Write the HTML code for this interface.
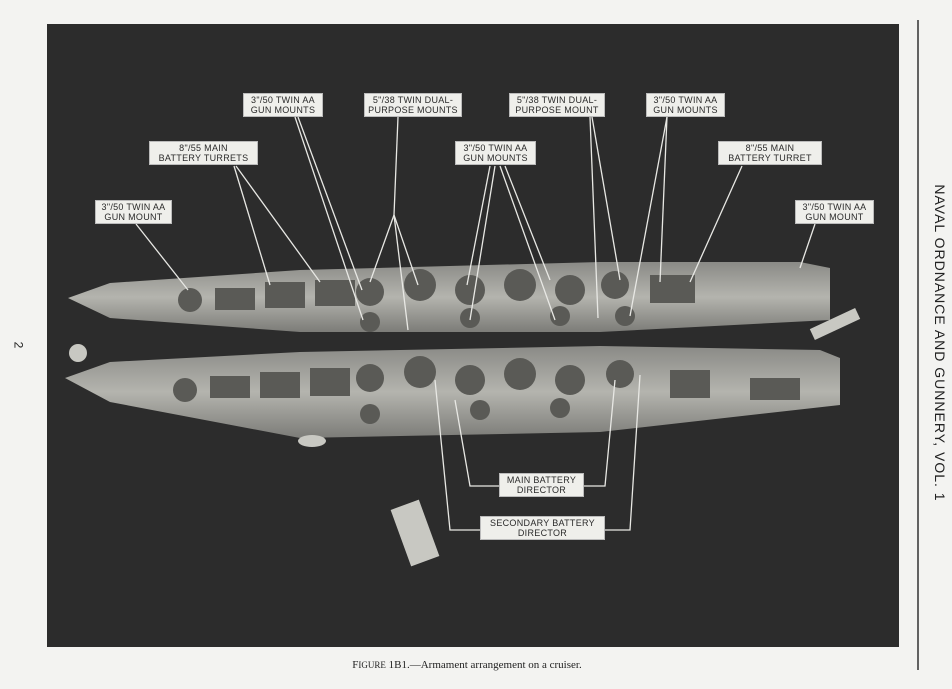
<!DOCTYPE html>
<html><head><meta charset="utf-8"><style>
html,body{margin:0;padding:0;background:#f3f3f1;width:952px;height:689px;overflow:hidden;font-family:"Liberation Sans",sans-serif}
.lab{position:absolute;background:#efefeb;color:#2a2a2a;font-size:9px;line-height:10px;text-align:center;letter-spacing:.3px;border:1px solid #bbb;padding:1px 2px;box-sizing:border-box}
</style></head><body>
<svg width="952" height="689" style="position:absolute;left:0;top:0">
<defs>
<linearGradient id="h" x1="0" y1="0" x2="0" y2="1"><stop offset="0" stop-color="#8a8a86"/><stop offset=".5" stop-color="#b4b4ae"/><stop offset="1" stop-color="#7c7c78"/></linearGradient>
</defs>
<rect x="47" y="24" width="852" height="623" fill="#2c2c2c"/>
<line x1="918" y1="20" x2="918" y2="670" stroke="#333" stroke-width="1.5"/>
<!-- top ship -->
<polygon points="68,298 110,283 300,270 600,262 800,262 830,268 830,320 600,332 300,332 110,318" fill="url(#h)"/>
<!-- bottom ship -->
<polygon points="65,378 110,362 300,352 600,346 820,350 840,358 840,405 600,432 300,438 110,402" fill="url(#h)"/>
<g fill="#5a5a56">
<circle cx="190" cy="300" r="12"/><rect x="215" y="288" width="40" height="22"/><rect x="265" y="282" width="40" height="26"/><rect x="315" y="280" width="40" height="26"/>
<circle cx="370" cy="292" r="14"/><circle cx="420" cy="285" r="16"/><circle cx="470" cy="290" r="15"/><circle cx="520" cy="285" r="16"/><circle cx="570" cy="290" r="15"/><circle cx="615" cy="285" r="14"/><rect x="650" y="275" width="45" height="28"/><circle cx="370" cy="322" r="10"/><circle cx="470" cy="318" r="10"/><circle cx="560" cy="316" r="10"/><circle cx="625" cy="316" r="10"/>
<circle cx="185" cy="390" r="12"/><rect x="210" y="376" width="40" height="22"/><rect x="260" y="372" width="40" height="26"/><rect x="310" y="368" width="40" height="28"/>
<circle cx="370" cy="378" r="14"/><circle cx="420" cy="372" r="16"/><circle cx="470" cy="380" r="15"/><circle cx="520" cy="374" r="16"/><circle cx="570" cy="380" r="15"/><circle cx="620" cy="374" r="14"/><rect x="670" y="370" width="40" height="28"/><rect x="750" y="378" width="50" height="22"/><circle cx="370" cy="414" r="10"/><circle cx="480" cy="410" r="10"/><circle cx="560" cy="408" r="10"/>
</g>
<g fill="#c8c8c2"><rect x="400" y="503" width="30" height="60" transform="rotate(-20 415 533)"/><ellipse cx="312" cy="441" rx="14" ry="6"/><circle cx="78" cy="353" r="9"/><rect x="810" y="318" width="50" height="12" transform="rotate(-25 835 324)"/></g>
<g stroke="#e8e8e4" stroke-width="1.3" fill="none">
<line x1="136" y1="224" x2="188" y2="290"/>
<line x1="234" y1="166" x2="270" y2="285"/><line x1="236" y1="166" x2="320" y2="282"/>
<line x1="295" y1="117" x2="363" y2="320"/><line x1="298" y1="117" x2="362" y2="290"/>
<line x1="398" y1="117" x2="394" y2="215"/><line x1="394" y1="215" x2="370" y2="282"/><line x1="394" y1="215" x2="418" y2="285"/><line x1="394" y1="215" x2="408" y2="330"/>
<line x1="490" y1="166" x2="467" y2="285"/><line x1="495" y1="166" x2="470" y2="320"/><line x1="500" y1="166" x2="555" y2="320"/><line x1="505" y1="166" x2="550" y2="280"/>
<line x1="590" y1="117" x2="598" y2="318"/><line x1="592" y1="117" x2="620" y2="280"/>
<line x1="667" y1="117" x2="660" y2="282"/><line x1="667" y1="117" x2="630" y2="316"/>
<line x1="742" y1="166" x2="690" y2="282"/>
<line x1="815" y1="224" x2="800" y2="268"/>
<polyline points="499,486 470,486 455,400"/><polyline points="584,486 605,486 615,380"/>
<polyline points="480,530 450,530 435,380"/><polyline points="605,530 630,530 640,375"/>
</g>
</svg>
<div class="lab" style="left:243px;top:93px;width:80px">3"/50 TWIN AA<br>GUN MOUNTS</div>
<div class="lab" style="left:364px;top:93px;width:98px">5"/38 TWIN DUAL-<br>PURPOSE MOUNTS</div>
<div class="lab" style="left:509px;top:93px;width:96px">5"/38 TWIN DUAL-<br>PURPOSE MOUNT</div>
<div class="lab" style="left:646px;top:93px;width:79px">3"/50 TWIN AA<br>GUN MOUNTS</div>
<div class="lab" style="left:149px;top:141px;width:109px">8"/55 MAIN<br>BATTERY TURRETS</div>
<div class="lab" style="left:455px;top:141px;width:81px">3"/50 TWIN AA<br>GUN MOUNTS</div>
<div class="lab" style="left:718px;top:141px;width:104px">8"/55 MAIN<br>BATTERY TURRET</div>
<div class="lab" style="left:95px;top:200px;width:77px">3"/50 TWIN AA<br>GUN MOUNT</div>
<div class="lab" style="left:795px;top:200px;width:79px">3"/50 TWIN AA<br>GUN MOUNT</div>
<div class="lab" style="left:499px;top:473px;width:85px">MAIN BATTERY<br>DIRECTOR</div>
<div class="lab" style="left:480px;top:516px;width:125px">SECONDARY BATTERY<br>DIRECTOR</div>
<div style="position:absolute;left:780px;top:335px;width:320px;transform:rotate(90deg);transform-origin:center;font-size:14px;color:#222;letter-spacing:1px;white-space:nowrap;text-align:center">NAVAL ORDNANCE AND GUNNERY, VOL. 1</div>
<div style="position:absolute;left:15px;top:338px;font-size:12px;color:#222;transform:rotate(90deg)">2</div>
<div style="position:absolute;left:0;width:934px;top:659px;text-align:center;font-family:'Liberation Serif',serif;font-size:11px;color:#222">F<span style="font-size:9px">IGURE</span> 1B1.—Armament arrangement on a cruiser.</div>
</body></html>
